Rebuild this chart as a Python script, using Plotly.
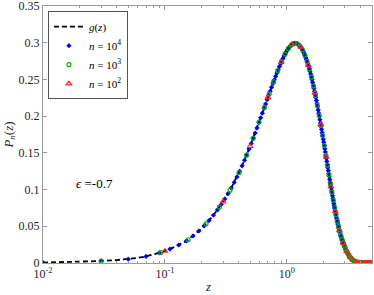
import plotly.graph_objects as go

# ---- g(z) reference curve ----
z_g = [0.01, 0.02, 0.03, 0.04, 0.05, 0.06, 0.07, 0.08, 0.09, 0.10, 0.12, 0.15,
       0.20, 0.25, 0.30, 0.35, 0.40, 0.45, 0.50, 0.55, 0.60, 0.65, 0.70, 0.75,
       0.80, 0.85, 0.90, 0.95, 1.00, 1.05, 1.10, 1.15, 1.20, 1.25, 1.30, 1.35,
       1.40, 1.45, 1.50, 1.55, 1.60, 1.65, 1.70, 1.75, 1.80, 1.85, 1.90, 1.95,
       2.00, 2.05, 2.10, 2.15, 2.20, 2.25, 2.30, 2.35, 2.40, 2.45, 2.50, 2.55,
       2.60, 2.65, 2.70, 2.75, 2.80, 2.85, 2.90, 2.95, 3.00, 3.05, 3.10, 3.15,
       3.20, 3.25, 3.30, 3.35, 3.40, 3.45, 3.50, 3.60, 3.70, 3.80, 3.90, 4.00,
       4.20, 4.50, 5.00]
p_g = [0.0006, 0.0016, 0.0027, 0.0039, 0.0052, 0.0070, 0.0090, 0.0113, 0.0138, 0.0163, 0.0218, 0.0300,
       0.0470, 0.0650, 0.0835, 0.1020, 0.1210, 0.1400, 0.1590, 0.1770, 0.1945, 0.2105, 0.2255, 0.2395,
       0.2520, 0.2635, 0.2735, 0.2820, 0.2890, 0.2943, 0.2977, 0.2993, 0.2992, 0.2975, 0.2943, 0.2898,
       0.2840, 0.2772, 0.2695, 0.2610, 0.2518, 0.2420, 0.2318, 0.2213, 0.2105, 0.1995, 0.1885, 0.1775,
       0.1665, 0.1555, 0.1447, 0.1341, 0.1238, 0.1138, 0.1042, 0.0950, 0.0862, 0.0779, 0.0701, 0.0628,
       0.0560, 0.0500, 0.0445, 0.0395, 0.0350, 0.0310, 0.0273, 0.0240, 0.0210, 0.0182, 0.0158, 0.0136,
       0.0116, 0.0098, 0.0082, 0.0068, 0.0056, 0.0046, 0.0037, 0.0024, 0.0015, 0.0008, 0.0004, 0.0002,
       0.0000, 0.0000, 0.0000]

# ---- n = 10^4 samples ----
z_n4 = [0.01, 0.03, 0.05, 0.07, 0.09, 0.11, 0.13, 0.15, 0.17, 0.19,
        0.21, 0.23, 0.25, 0.27, 0.29, 0.31, 0.33, 0.35, 0.37, 0.39,
        0.41, 0.43, 0.45, 0.47, 0.49, 0.51, 0.53, 0.55, 0.57, 0.59,
        0.61, 0.63, 0.65, 0.67, 0.69, 0.71, 0.73, 0.75, 0.77, 0.79,
        0.81, 0.83, 0.85, 0.87, 0.89, 0.91, 0.93, 0.95, 0.97, 0.99,
        1.01, 1.03, 1.05, 1.07, 1.09, 1.11, 1.13, 1.15, 1.17, 1.19,
        1.21, 1.23, 1.25, 1.27, 1.29, 1.31, 1.33, 1.35, 1.37, 1.39,
        1.41, 1.43, 1.45, 1.47, 1.49, 1.51, 1.53, 1.55, 1.57, 1.59,
        1.61, 1.63, 1.65, 1.67, 1.69, 1.71, 1.73, 1.75, 1.77, 1.79,
        1.81, 1.83, 1.85, 1.87, 1.89, 1.91, 1.93, 1.95, 1.97, 1.99,
        2.01, 2.03, 2.05, 2.07, 2.09, 2.11, 2.13, 2.15, 2.17, 2.19,
        2.21, 2.23, 2.25, 2.27, 2.29, 2.31, 2.33, 2.35, 2.37, 2.39,
        2.41, 2.43, 2.45, 2.47, 2.49, 2.51, 2.53, 2.55, 2.57, 2.59,
        2.61, 2.63, 2.65, 2.67, 2.69, 2.71, 2.73, 2.75, 2.77, 2.79,
        2.81, 2.83, 2.85, 2.87, 2.89, 2.91, 2.93, 2.95, 2.97, 2.99,
        3.01, 3.03, 3.05, 3.07, 3.09, 3.11, 3.13, 3.15, 3.17, 3.19,
        3.21, 3.23, 3.25, 3.27, 3.29, 3.31, 3.33, 3.35, 3.37, 3.39,
        3.41, 3.43, 3.45, 3.47, 3.49, 3.51, 3.53, 3.55, 3.57, 3.59,
        3.61, 3.63, 3.65, 3.67, 3.69, 3.71, 3.73, 3.75, 3.77, 3.79,
        3.81, 3.83, 3.85, 3.87, 3.89, 3.91, 3.93, 3.95, 3.97, 3.99,
        4.01, 4.03, 4.05, 4.07, 4.09, 4.11, 4.13, 4.15, 4.17, 4.19,
        4.21, 4.23, 4.25, 4.27, 4.29, 4.31, 4.33, 4.35, 4.37, 4.39,
        4.41, 4.43, 4.45, 4.47, 4.49, 4.51, 4.53, 4.55, 4.57, 4.59,
        4.61, 4.63, 4.65, 4.67, 4.69, 4.71, 4.73, 4.75, 4.77, 4.79,
        4.81, 4.83, 4.85, 4.87, 4.89, 4.91, 4.93, 4.95, 4.97, 4.99]
p_n4 = [0.0006, 0.0027, 0.0052, 0.0090, 0.0138, 0.0190, 0.0245, 0.0300, 0.0368, 0.0436,
        0.0506, 0.0578, 0.0650, 0.0724, 0.0798, 0.0872, 0.0946, 0.1020, 0.1096, 0.1172,
        0.1248, 0.1324, 0.1400, 0.1476, 0.1552, 0.1626, 0.1698, 0.1770, 0.1840, 0.1910,
        0.1977, 0.2041, 0.2105, 0.2165, 0.2225, 0.2283, 0.2339, 0.2395, 0.2445, 0.2495,
        0.2543, 0.2589, 0.2635, 0.2675, 0.2715, 0.2752, 0.2786, 0.2820, 0.2848, 0.2876,
        0.2901, 0.2922, 0.2943, 0.2957, 0.2970, 0.2980, 0.2987, 0.2993, 0.2993, 0.2992,
        0.2989, 0.2982, 0.2975, 0.2962, 0.2949, 0.2934, 0.2916, 0.2898, 0.2875, 0.2852,
        0.2826, 0.2799, 0.2772, 0.2741, 0.2710, 0.2678, 0.2644, 0.2610, 0.2573, 0.2536,
        0.2498, 0.2459, 0.2420, 0.2379, 0.2338, 0.2297, 0.2255, 0.2213, 0.2170, 0.2127,
        0.2083, 0.2039, 0.1995, 0.1951, 0.1907, 0.1863, 0.1819, 0.1775, 0.1731, 0.1687,
        0.1643, 0.1599, 0.1555, 0.1512, 0.1469, 0.1426, 0.1383, 0.1341, 0.1300, 0.1259,
        0.1218, 0.1178, 0.1138, 0.1100, 0.1061, 0.1024, 0.0987, 0.0950, 0.0915, 0.0880,
        0.0845, 0.0812, 0.0779, 0.0748, 0.0717, 0.0686, 0.0657, 0.0628, 0.0601, 0.0574,
        0.0548, 0.0524, 0.0500, 0.0478, 0.0456, 0.0435, 0.0415, 0.0395, 0.0377, 0.0359,
        0.0342, 0.0326, 0.0310, 0.0295, 0.0280, 0.0266, 0.0253, 0.0240, 0.0228, 0.0216,
        0.0204, 0.0193, 0.0182, 0.0172, 0.0163, 0.0154, 0.0145, 0.0136, 0.0128, 0.0120,
        0.0112, 0.0105, 0.0098, 0.0092, 0.0085, 0.0079, 0.0074, 0.0068, 0.0063, 0.0058,
        0.0054, 0.0050, 0.0046, 0.0042, 0.0039, 0.0036, 0.0033, 0.0030, 0.0028, 0.0025,
        0.0023, 0.0021, 0.0019, 0.0017, 0.0016, 0.0014, 0.0013, 0.0011, 0.0010, 0.0009,
        0.0008, 0.0007, 0.0006, 0.0005, 0.0004, 0.0004, 0.0003, 0.0003, 0.0002, 0.0002,
        0.0002, 0.0001, 0.0001, 0.0001, 0.0001, 0.0001, 0.0001, 0.0000, 0.0000, 0.0000,
        0.0000, 0.0000, 0.0000, 0.0000, 0.0000, 0.0000, 0.0000, 0.0000, 0.0000, 0.0000,
        0.0000, 0.0000, 0.0000, 0.0000, 0.0000, 0.0000, 0.0000, 0.0000, 0.0000, 0.0000,
        0.0000, 0.0000, 0.0000, 0.0000, 0.0000, 0.0000, 0.0000, 0.0000, 0.0000, 0.0000,
        0.0000, 0.0000, 0.0000, 0.0000, 0.0000, 0.0000, 0.0000, 0.0000, 0.0000, 0.0000]

# ---- n = 10^3 samples ----
z_n3 = [0.03, 0.0925, 0.155, 0.2175, 0.28, 0.3425, 0.405, 0.4675, 0.53, 0.5925,
        0.655, 0.7175, 0.78, 0.8425, 0.905, 0.9675, 1.03, 1.0925, 1.155, 1.2175,
        1.28, 1.3425, 1.405, 1.4675, 1.53, 1.5925, 1.655, 1.7175, 1.78, 1.8425,
        1.905, 1.9675, 2.03, 2.0925, 2.155, 2.2175, 2.28, 2.3425, 2.405, 2.4675,
        2.53, 2.5925, 2.655, 2.7175, 2.78, 2.8425, 2.905, 2.9675, 3.03, 3.0925,
        3.155, 3.2175, 3.28, 3.3425, 3.405, 3.4675, 3.53, 3.5925, 3.655, 3.7175,
        3.78, 3.8425, 3.905, 3.9675, 4.03, 4.0925, 4.155, 4.2175, 4.28, 4.3425,
        4.405, 4.4675, 4.53, 4.5925, 4.655, 4.7175, 4.78, 4.8425, 4.905]
p_n3 = [0.0027, 0.0144, 0.0317, 0.0533, 0.0761, 0.0992, 0.1229, 0.1467, 0.1698, 0.1919,
        0.2120, 0.2304, 0.2470, 0.2618, 0.2744, 0.2845, 0.2922, 0.2972, 0.2993, 0.2986,
        0.2956, 0.2905, 0.2833, 0.2745, 0.2644, 0.2532, 0.2410, 0.2281, 0.2148, 0.2012,
        0.1874, 0.1737, 0.1599, 0.1463, 0.1331, 0.1203, 0.1080, 0.0964, 0.0854, 0.0752,
        0.0657, 0.0570, 0.0495, 0.0428, 0.0368, 0.0316, 0.0270, 0.0230, 0.0193, 0.0162,
        0.0134, 0.0110, 0.0088, 0.0070, 0.0055, 0.0043, 0.0033, 0.0025, 0.0019, 0.0014,
        0.0010, 0.0006, 0.0004, 0.0002, 0.0001, 0.0001, 0.0000, 0.0000, 0.0000, 0.0000,
        0.0000, 0.0000, 0.0000, 0.0000, 0.0000, 0.0000, 0.0000, 0.0000, 0.0000]

# ---- n = 10^2 samples ----
z_n2 = [0.1, 0.3, 0.5, 0.7, 0.9, 1.1, 1.3, 1.5, 1.7, 1.9, 2.1, 2.3, 2.5,
        2.7, 2.9, 3.1, 3.3, 3.5, 3.7, 3.9, 4.1, 4.3, 4.5, 4.7, 4.9]
p_n2 = [0.0163, 0.0835, 0.1590, 0.2255, 0.2735, 0.2977, 0.2943, 0.2695, 0.2318, 0.1885,
        0.1447, 0.1042, 0.0701, 0.0445, 0.0273, 0.0158, 0.0082, 0.0037, 0.0015, 0.0004,
        0.0001, 0.0000, 0.0000, 0.0000, 0.0000]

y_ticks = [0, 0.05, 0.1, 0.15, 0.2, 0.25, 0.3, 0.35]
y_ticklabels = ["0", "0.05", "0.1", "0.15", "0.2", "0.25", "0.3", "0.35"]
x_ticks = [0.01, 0.1, 1]
x_ticklabels = ["10<sup>-2</sup>", "10<sup>-1</sup>", "10<sup>0</sup>"]
x_minor = [0.02, 0.03, 0.04, 0.05, 0.06, 0.07, 0.08, 0.09,
           0.2, 0.3, 0.4, 0.5, 0.6, 0.7, 0.8, 0.9, 2, 3, 4]

FONT = "Liberation Serif"
AX = "#9a9a9a"
TXT = "#262626"

fig = go.Figure()
fig.add_trace(go.Scatter(x=z_g, y=p_g, mode="lines", name="<i>g</i>(<i>z</i>)",
                         line=dict(color="black", width=1.8, dash="5px,3px")))
fig.add_trace(go.Scatter(x=z_n4, y=p_n4, mode="markers", name="<i>n</i> = 10<sup>4</sup>",
                         marker=dict(symbol="diamond", size=4, color="#0000ff",
                                     line=dict(width=0))))
fig.add_trace(go.Scatter(x=z_n3, y=p_n3, mode="markers", name="<i>n</i> = 10<sup>3</sup>",
                         marker=dict(symbol="circle-open", size=4, color="#00b000",
                                     line=dict(width=1.1))))
fig.add_trace(go.Scatter(x=z_n2, y=p_n2, mode="markers", name="<i>n</i> = 10<sup>2</sup>",
                         marker=dict(symbol="triangle-up-open", size=5, color="#ff2020",
                                     line=dict(width=1.1))))

fig.update_layout(
    width=374, height=295,
    margin=dict(l=43, r=2, t=6, b=32, autoexpand=False),
    paper_bgcolor="white", plot_bgcolor="white",
    font=dict(family=FONT, size=12, color=TXT),
    showlegend=True,
    legend=dict(x=0.015, y=0.98, xanchor="left", yanchor="top",
                bgcolor="white", bordercolor="#555", borderwidth=1,
                font=dict(family=FONT, size=11, color="black"),
                itemwidth=30, tracegroupgap=0),
    annotations=[
        dict(text="<i>ϵ</i> =-0.7", xref="paper", yref="paper",
             x=0.095, y=0.31, xanchor="left", yanchor="middle",
             showarrow=False, font=dict(family=FONT, size=13, color="black")),
        dict(text="<i>z</i>", xref="paper", yref="paper",
             x=0.5, y=-0.09, xanchor="center", yanchor="middle",
             showarrow=False, font=dict(family=FONT, size=13, color=TXT)),
    ],
)
fig.update_xaxes(type="log", range=[-2, 0.699], automargin=False,
                 tickmode="array", tickvals=x_ticks, ticktext=x_ticklabels,
                 showline=True, linecolor=AX, linewidth=1, mirror="ticks",
                 ticks="inside", ticklen=4, tickcolor=AX,
                 minor=dict(tickmode="array", tickvals=x_minor, ticks="inside",
                            ticklen=2, tickcolor=AX, showgrid=False),
                 showgrid=False, zeroline=False, ticklabeloverflow="allow",
                 tickfont=dict(family=FONT, size=12, color=TXT))
fig.update_yaxes(range=[0, 0.35001], automargin=False,
                 tickmode="array", tickvals=y_ticks, ticktext=y_ticklabels,
                 showline=True, linecolor=AX, linewidth=1, mirror="ticks",
                 ticks="inside", ticklen=4, tickcolor=AX,
                 showgrid=False, zeroline=False, ticklabeloverflow="allow",
                 tickfont=dict(family=FONT, size=12, color=TXT),
                 title=dict(text="<i>P</i><sub><i>n</i></sub>(<i>z</i>)",
                            font=dict(family=FONT, size=13, color=TXT),
                            standoff=2))

fig.write_html("out.html", config={"displayModeBar": False},
               post_script="document.body.style.margin='0';document.body.style.padding='0';")
